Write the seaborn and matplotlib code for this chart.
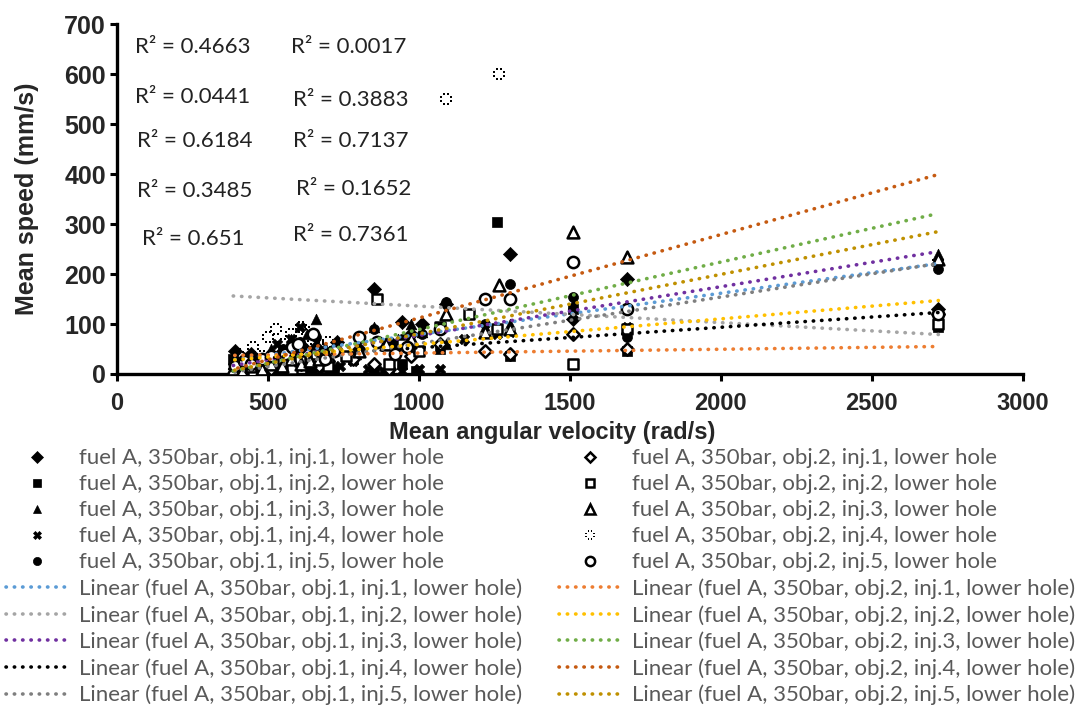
import numpy as np
import pandas as pd
import matplotlib
matplotlib.use("Agg")
import matplotlib.pyplot as plt
from matplotlib.path import Path
from matplotlib.lines import Line2D
import seaborn as sns

# ---- data -------------------------------------------------------------
series_labels = [
    "fuel A, 350bar, obj.1, inj.1, lower hole",
    "fuel A, 350bar, obj.1, inj.2, lower hole",
    "fuel A, 350bar, obj.1, inj.3, lower hole",
    "fuel A, 350bar, obj.1, inj.4, lower hole",
    "fuel A, 350bar, obj.1, inj.5, lower hole",
    "fuel A, 350bar, obj.2, inj.1, lower hole",
    "fuel A, 350bar, obj.2, inj.2, lower hole",
    "fuel A, 350bar, obj.2, inj.3, lower hole",
    "fuel A, 350bar, obj.2, inj.4, lower hole",
    "fuel A, 350bar, obj.2, inj.5, lower hole",
]

x_o1_i1 = [390, 420, 445, 480, 510, 550, 575, 605, 630, 660, 700, 730, 800, 850, 910,
           945, 975, 1010, 1090, 1300, 1510, 1690, 2720]
y_o1_i1 = [45, 30, 40, 20, 30, 45, 35, 60, 45, 55, 40, 65, 50, 170, 60,
           105, 80, 100, 140, 240, 110, 190, 130]

x_o1_i2 = [385, 400, 420, 450, 480, 520, 550, 580, 605, 640, 660, 720, 780, 850, 900,
           945, 990, 1070, 1260, 1300, 1510, 1690, 2720]
y_o1_i2 = [30, 5, 10, 3, 25, 5, 20, 8, 35, 4, 15, 10, 30, 5, 8,
           20, 6, 50, 305, 35, 130, 45, 95]

x_o1_i3 = [385, 410, 445, 480, 510, 540, 575, 600, 630, 660, 690, 730, 790, 850, 930,
           975, 1010, 1090, 1220, 1300, 1510, 2720]
y_o1_i3 = [20, 8, 35, 15, 50, 30, 70, 45, 80, 110, 55, 60, 40, 95, 70,
           100, 85, 60, 95, 100, 140, 240]

x_o1_i4 = [385, 420, 450, 480, 530, 555, 575, 605, 630, 665, 700, 740, 780, 830, 880,
           945, 1000, 1070, 1150, 1260, 1300, 1690, 2720]
y_o1_i4 = [5, 15, 8, 30, 60, 40, 70, 95, 20, 10, 5, 15, 25, 10, 5,
           5, 10, 10, 70, 80, 85, 95, 110]

x_o1_i5 = [390, 415, 445, 475, 510, 550, 580, 605, 635, 660, 700, 730, 780, 850, 900,
           945, 1010, 1090, 1220, 1300, 1510, 1690, 2720]
y_o1_i5 = [25, 10, 30, 15, 40, 50, 30, 65, 40, 75, 20, 45, 35, 90, 15,
           70, 80, 145, 100, 180, 155, 75, 210]

x_o2_i1 = [390, 420, 445, 480, 510, 545, 575, 610, 630, 670, 700, 780, 850, 900, 975,
           1070, 1220, 1300, 1510, 1690, 2720]
y_o2_i1 = [20, 10, 25, 15, 10, 25, 30, 20, 40, 15, 25, 30, 20, 10, 35,
           60, 45, 40, 80, 50, 120]

x_o2_i2 = [390, 420, 450, 480, 520, 550, 580, 605, 660, 700, 760, 860, 900, 945, 1000,
           1070, 1165, 1260, 1510, 1690, 2720]
y_o2_i2 = [15, 20, 5, 10, 25, 30, 10, 25, 40, 15, 35, 150, 20, 60, 45,
           95, 120, 90, 20, 90, 100]

x_o2_i3 = [385, 415, 445, 480, 510, 545, 575, 610, 640, 670, 700, 800, 890, 975, 1090,
           1220, 1265, 1300, 1510, 1690, 2720]
y_o2_i3 = [10, 5, 15, 10, 20, 15, 30, 20, 25, 30, 35, 45, 60, 70, 120,
           85, 178, 90, 285, 235, 230]

x_o2_i4 = [400, 430, 450, 480, 500, 525, 550, 575, 590, 610, 630, 650, 675, 700,
           1090, 1265, 2720]
y_o2_i4 = [40, 25, 55, 35, 75, 90, 60, 80, 45, 95, 85, 70, 55, 65,
           550, 600, 225]

x_o2_i5 = [390, 420, 445, 480, 510, 555, 580, 600, 650, 690, 720, 800, 860, 920, 960,
           1070, 1220, 1300, 1510, 1690, 2720]
y_o2_i5 = [15, 25, 20, 30, 35, 40, 55, 60, 80, 30, 45, 75, 65, 40, 55,
           90, 150, 150, 225, 130, 120]

series_x = [x_o1_i1, x_o1_i2, x_o1_i3, x_o1_i4, x_o1_i5,
            x_o2_i1, x_o2_i2, x_o2_i3, x_o2_i4, x_o2_i5]
series_y = [y_o1_i1, y_o1_i2, y_o1_i3, y_o1_i4, y_o1_i5,
            y_o2_i1, y_o2_i2, y_o2_i3, y_o2_i4, y_o2_i5]

# linear trendline coefficients (y = slope * x + intercept)
trend_slope = [0.0824, -0.033, 0.0976, 0.041, 0.093,
               0.0076, 0.051, 0.135, 0.167, 0.119]
trend_intercept = [-3.2, 168.8, -20.5, 11.5, -32.0,
                   34.3, 8.3, -46.0, -55.0, -38.7]
trend_colors = ["#5B9BD5", "#A5A5A5", "#7030A0", "#000000", "#7F7F7F",
                "#ED7D31", "#FFC000", "#70AD47", "#C55A11", "#BF9000"]

r2_left = ["0.4663", "0.0441", "0.6184", "0.3485", "0.651"]
r2_right = ["0.0017", "0.3883", "0.7137", "0.1652", "0.7361"]

x_ticks = [0, 500, 1000, 1500, 2000, 2500, 3000]
y_ticks = [0, 100, 200, 300, 400, 500, 600, 700]


# ---- marker made of small dots arranged on a ring ---------------------
def dotted_ring(n=8, r=1.0, s=0.2):
    verts, codes = [], []
    for k in range(n):
        a = 2 * np.pi * k / n + np.pi / 8
        cx, cy = r * np.cos(a), r * np.sin(a)
        verts += [(cx - s, cy - s), (cx + s, cy - s), (cx + s, cy + s),
                  (cx - s, cy + s), (cx - s, cy - s)]
        codes += [Path.MOVETO, Path.LINETO, Path.LINETO, Path.LINETO, Path.CLOSEPOLY]
    return Path(verts, codes)


ring = dotted_ring()
# (marker, face, size, edge width)
marker_styles = [
    ("D", "black", 52, 0.5),
    ("s", "black", 50, 0.5),
    ("^", "black", 58, 0.5),
    ("X", "black", 56, 0.5),
    ("o", "black", 52, 0.5),
    ("D", "white", 40, 1.8),
    ("s", "white", 55, 1.8),
    ("^", "white", 72, 1.8),
    (ring, "black", 64, 0.0),
    ("o", "white", 66, 1.8),
]

# ---- figure -------------------------------------------------------------
sns.set_theme(style="white")
plt.rcParams["font.family"] = ["Liberation Sans", "DejaVu Sans"]

fig = plt.figure(figsize=(10.83, 7.11), dpi=100)
ax = fig.add_axes([0.108, 0.474, 0.8365, 0.492])

scatter_handles = []
for i in range(10):
    mk, face, size, ew = marker_styles[i]
    df = pd.DataFrame({"x": series_x[i], "y": series_y[i]})
    sns.scatterplot(data=df, x="x", y="y", ax=ax, marker=mk, s=size,
                    color=face, edgecolor="black", linewidth=ew, zorder=3,
                    legend=False)
    scatter_handles.append(Line2D([], [], linestyle="none", marker=mk,
                                  markersize=np.sqrt(size) * 0.82,
                                  markerfacecolor=face, markeredgecolor="black",
                                  markeredgewidth=ew))

trend_handles = []
for i in range(10):
    xs = np.array([min(series_x[i]), max(series_x[i])], dtype=float)
    ys = trend_slope[i] * xs + trend_intercept[i]
    sns.lineplot(x=xs, y=ys, ax=ax, color=trend_colors[i], linewidth=2.6,
                 linestyle=(0, (0.1, 2.2)), dash_capstyle="round", zorder=4,
                 legend=False)
    trend_handles.append(Line2D([], [], color=trend_colors[i], linewidth=2.6,
                                linestyle=(0, (0.1, 2.2)), dash_capstyle="round"))

ax.set_xlim(0, 3000)
ax.set_ylim(0, 700)
ax.set_xticks(x_ticks)
ax.set_yticks(y_ticks)
ax.set_xticklabels([str(t) for t in x_ticks], fontsize=17, fontweight="bold")
ax.set_yticklabels([str(t) for t in y_ticks], fontsize=18, fontweight="bold")
ax.tick_params(axis="both", direction="out", length=5, width=2.2, color="black",
               bottom=True, left=True)
ax.tick_params(axis="x", pad=8)
ax.tick_params(axis="y", pad=3)
for side in ("top", "right"):
    ax.spines[side].set_visible(False)
for side in ("left", "bottom"):
    ax.spines[side].set_linewidth(2.4)
    ax.spines[side].set_color("black")
ax.set_xlabel("Mean angular velocity (rad/s)", fontsize=17, fontweight="bold",
              labelpad=2)
ax.xaxis.set_label_coords(0.48, -0.135)
ax.set_ylabel("Mean speed (mm/s)", fontsize=18, fontweight="bold", labelpad=18)

# R² annotations
left_pos = [(193, 47), (193, 97), (195, 141), (195, 191), (193, 239)]
right_pos = [(349, 47), (351, 100), (351, 141), (354, 189), (351, 235)]
for txt, (px, py) in zip(r2_left, left_pos):
    fig.text(px / 1083, 1 - py / 711, f"R² = {txt}", fontsize=16,
             family="Lato", color="#222222", ha="center", va="center")
for txt, (px, py) in zip(r2_right, right_pos):
    fig.text(px / 1083, 1 - py / 711, f"R² = {txt}", fontsize=16,
             family="Lato", color="#222222", ha="center", va="center")

handles = scatter_handles[:5] + trend_handles[:5] + scatter_handles[5:] + trend_handles[5:]
labels = (series_labels[:5] + [f"Linear ({l})" for l in series_labels[:5]]
          + series_labels[5:] + [f"Linear ({l})" for l in series_labels[5:]])
leg = fig.legend(handles, labels, ncol=2, loc="upper left",
                 bbox_to_anchor=(-0.005, 0.385), frameon=False,
                 prop={"family": "Lato", "size": 16}, labelcolor="#595959",
                 handlelength=2.8, handletextpad=0.5, columnspacing=1.65,
                 labelspacing=0.27, borderpad=0.0)

fig.savefig("out.png", dpi=100)
